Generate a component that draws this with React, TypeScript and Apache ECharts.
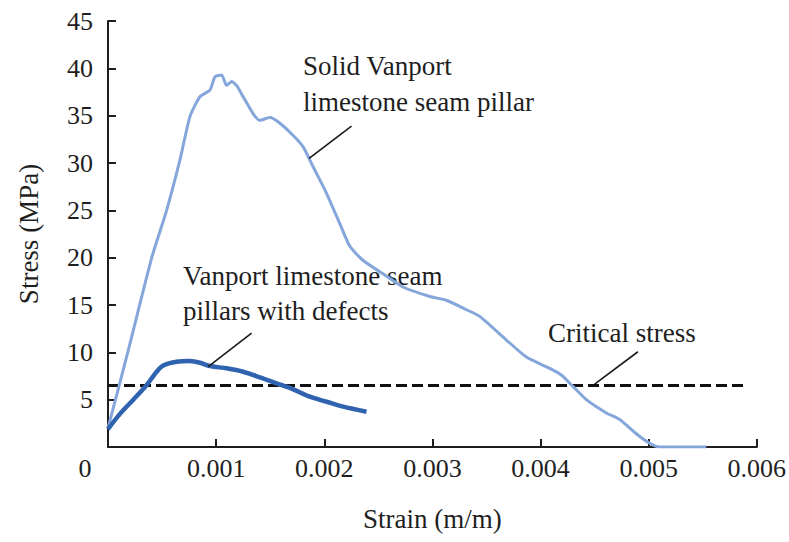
import React, { useEffect, useRef } from "react";
import * as echarts from "echarts";

// Solid Vanport limestone seam pillar (strain m/m, stress MPa)
const solidStrain = [
  0, 0.000185, 0.000407, 0.000542, 0.000665, 0.000758, 0.00085, 0.000943, 0.000989, 0.001051,
  0.001097, 0.001143, 0.001189, 0.00125, 0.001343, 0.001405, 0.001497, 0.00159, 0.001713, 0.001805,
  0.001897, 0.002021, 0.002144, 0.002237, 0.00236, 0.002544, 0.002729, 0.002976, 0.00313, 0.003315,
  0.003438, 0.003685, 0.00387, 0.004085, 0.004193, 0.0043, 0.004424, 0.004609, 0.004732, 0.004886,
  0.005009, 0.005102, 0.005533,
];
const solidStress = [
  2.0, 10.1, 20.1, 25.0, 30.3, 34.9, 37.0, 37.7, 39.1, 39.3,
  38.2, 38.6, 38.2, 37.0, 35.2, 34.5, 34.8, 34.2, 32.9, 31.7,
  29.6, 26.8, 23.6, 21.2, 19.7, 18.3, 16.9, 15.9, 15.5, 14.5,
  13.8, 11.3, 9.5, 8.3, 7.6, 6.4, 5.0, 3.6, 2.9, 1.4,
  0.4, 0.0, 0.0,
];

// Vanport limestone seam pillars with defects
const defectStrain = [
  0, 0.000111, 0.000234, 0.000358, 0.00045, 0.000511, 0.000635, 0.000758, 0.00085, 0.000943,
  0.001097, 0.00125, 0.001405, 0.001559, 0.001713, 0.001867, 0.002021, 0.002175, 0.002391,
];
const defectStress = [
  1.9, 3.5, 5.0, 6.55, 7.95, 8.6, 9.0, 9.08, 8.9, 8.55,
  8.31, 7.95, 7.36, 6.73, 6.09, 5.31, 4.78, 4.26, 3.73,
];

// Critical stress line
const criticalStress = 6.5;
const criticalStrainRange = [0, 0.0059];

// Leader lines [strain, stress] pairs
const leaderSolid = [[0.002252, 33.9], [0.00186, 30.5]];
const leaderDefect = [[0.001328, 12.04], [0.000927, 8.48]];
const leaderCritical = [[0.004901, 10.06], [0.004501, 6.65]];

const xTickLabels = ["0", "0.001", "0.002", "0.003", "0.004", "0.005", "0.006"];
const yTickLabels = ["", "5", "10", "15", "20", "25", "30", "35", "40", "45"];

const FONT = "'Liberation Serif', 'Times New Roman', serif";

export default function App() {
  const ref = useRef<HTMLDivElement>(null);

  useEffect(() => {
    if (!ref.current) return;
    const chart = echarts.init(ref.current, undefined, { renderer: "svg" });
    const zip = (a: number[], b: number[]) => a.map((v, i) => [v, b[i]]);
    const leaderSeries = (data: number[][]) => ({
      type: "line",
      data,
      symbol: "none",
      silent: true,
      lineStyle: { color: "#1a1a1a", width: 1.6 },
      z: 5,
    });
    const textStyle = (x: number, y: number, t: string) => ({
      type: "text",
      left: x,
      top: y,
      style: { text: t, font: `27px ${FONT}`, fill: "#1e1e1e" },
    });

    chart.setOption({
      animation: false,
      grid: { left: 108, right: 32, top: 21, bottom: 95, containLabel: false },
      xAxis: {
        type: "value",
        min: 0,
        max: 0.006,
        interval: 0.001,
        name: "Strain (m/m)",
        nameLocation: "middle",
        nameGap: 58,
        nameTextStyle: { fontFamily: FONT, fontSize: 27, color: "#1e1e1e" },
        axisLine: { lineStyle: { color: "#1e1e1e", width: 2 } },
        axisTick: { inside: true, length: 8, lineStyle: { color: "#1e1e1e", width: 2 } },
        splitLine: { show: false },
        axisLabel: {
          fontFamily: FONT,
          fontSize: 26,
          color: "#1e1e1e",
          margin: 8,
          formatter: (v: number) => {
            const idx = Math.round(v / 0.001);
            const s = xTickLabels[idx] ?? "";
            return idx === 0 ? `{z|${s}}` : s;
          },
          rich: { z: { fontFamily: FONT, fontSize: 26, color: "#1e1e1e", padding: [0, 46, 0, 0] } },
        },
      },
      yAxis: {
        type: "value",
        min: 0,
        max: 45,
        interval: 5,
        name: "Stress (MPa)",
        nameLocation: "middle",
        nameGap: 66,
        nameTextStyle: { fontFamily: FONT, fontSize: 27, color: "#1e1e1e" },
        axisLine: { show: true, lineStyle: { color: "#1e1e1e", width: 2 } },
        axisTick: { show: true, inside: true, length: 8, lineStyle: { color: "#1e1e1e", width: 2 } },
        splitLine: { show: false },
        axisLabel: {
          fontFamily: FONT,
          fontSize: 26,
          color: "#1e1e1e",
          margin: 15,
          formatter: (v: number) => yTickLabels[Math.round(v / 5)] ?? "",
        },
      },
      series: [
        {
          type: "line",
          data: [
            [criticalStrainRange[0], criticalStress],
            [criticalStrainRange[1], criticalStress],
          ],
          symbol: "none",
          silent: true,
          lineStyle: { color: "#111", width: 3, type: [11, 5] },
          z: 3,
        },
        {
          type: "line",
          name: "Solid",
          data: zip(solidStrain, solidStress),
          symbol: "none",
          smooth: 0.2,
          lineStyle: { color: "#84a6da", width: 3 },
          z: 4,
        },
        {
          type: "line",
          name: "Defects",
          data: zip(defectStrain, defectStress),
          symbol: "none",
          smooth: 0.3,
          lineStyle: { color: "#2f63b0", width: 4.5 },
          z: 4,
        },
        leaderSeries(leaderSolid),
        leaderSeries(leaderDefect),
        leaderSeries(leaderCritical),
      ],
      graphic: [
        textStyle(303, 52, "Solid Vanport"),
        textStyle(303, 88, "limestone seam pillar"),
        textStyle(183, 262, "Vanport limestone seam"),
        textStyle(183, 297, "pillars with defects"),
        textStyle(548, 319, "Critical stress"),
      ],
    });
    return () => chart.dispose();
  }, []);

  return (
    <div
      ref={ref}
      style={{ position: "fixed", left: 0, top: 0, width: 789, height: 542, background: "#fff" }}
    />
  );
}
